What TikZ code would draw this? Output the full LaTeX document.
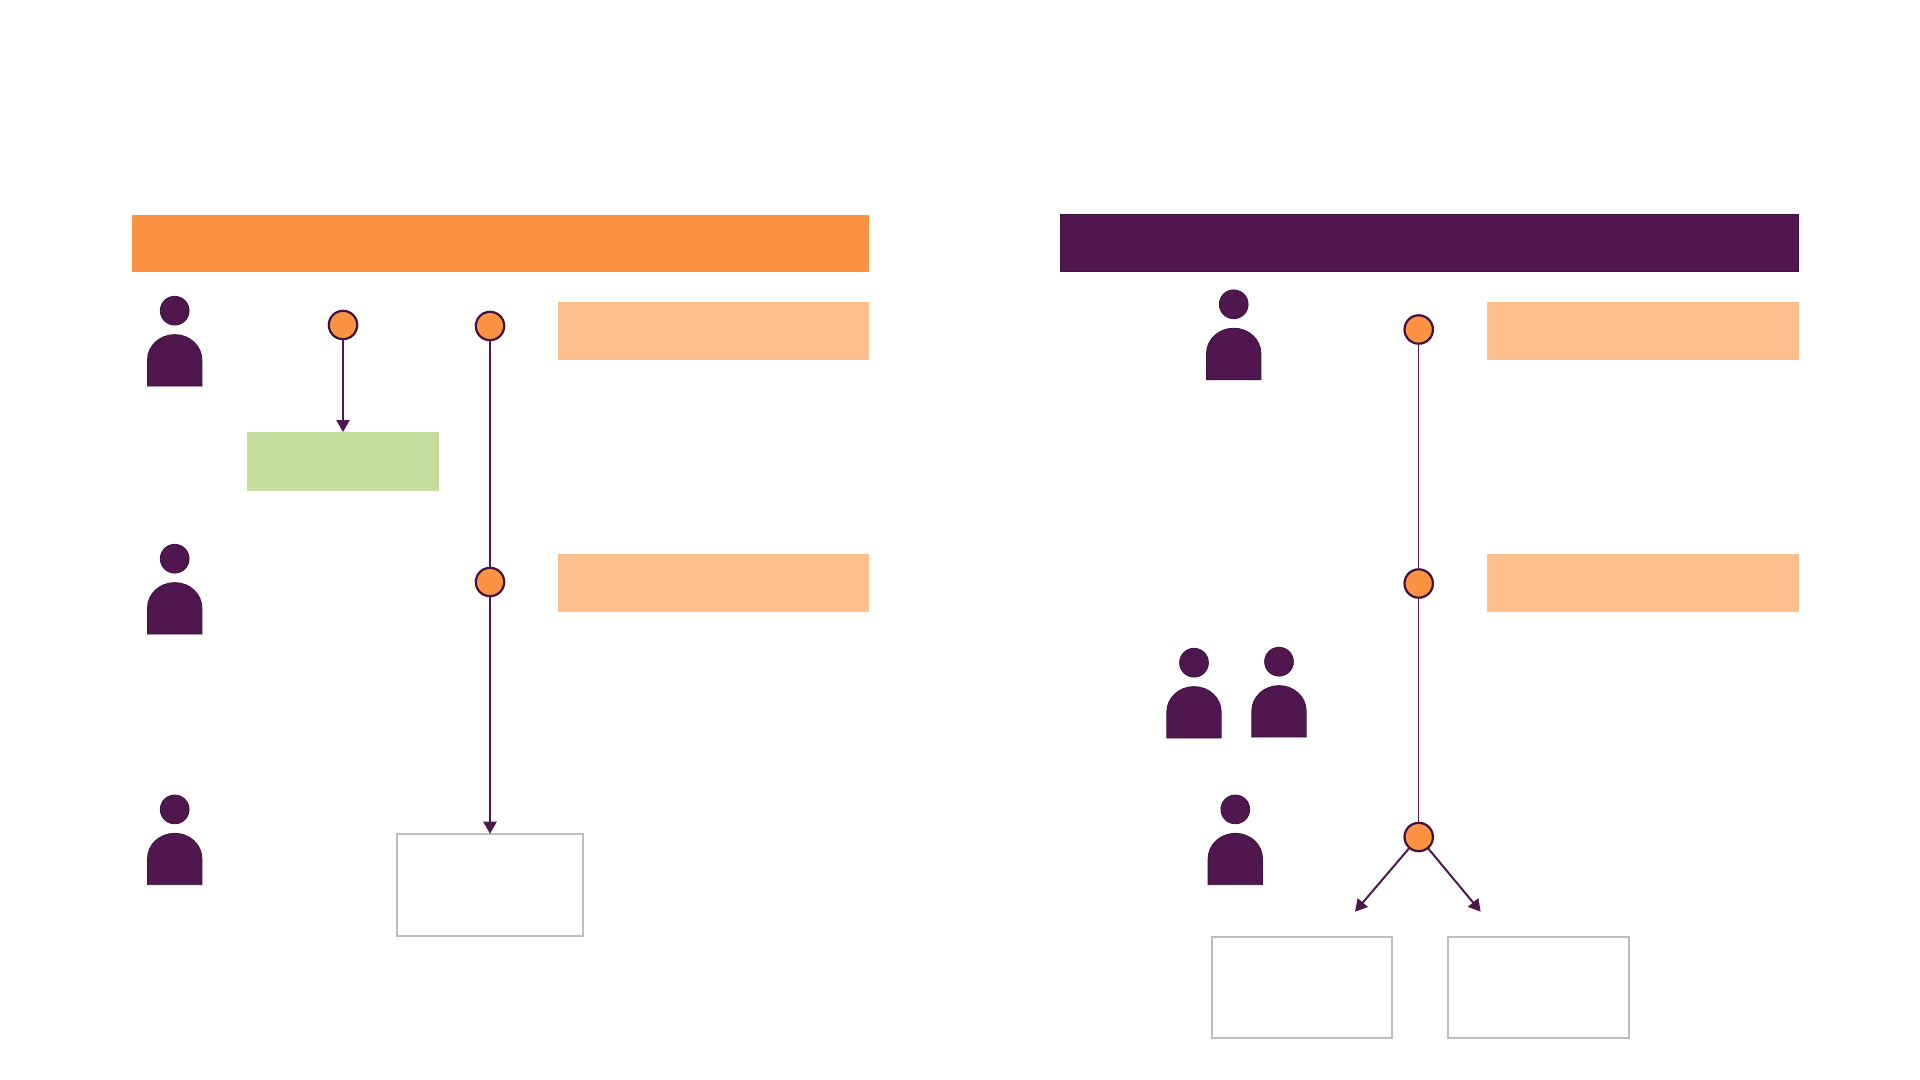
\documentclass[tikz,border=0pt]{standalone}
\usetikzlibrary{arrows.meta}
\definecolor{barorange}{HTML}{FB9342}
\definecolor{deep}{HTML}{50174F}
\definecolor{rim}{HTML}{3D1140}
\definecolor{peach}{HTML}{FDBF8E}
\definecolor{leaf}{HTML}{C5DE9D}
\definecolor{edgegray}{HTML}{BDBDBD}
\tikzset{
  band/.style={rectangle,inner sep=0pt,outer sep=0pt,draw=none},
  outlinebox/.style={rectangle,inner sep=0pt,outer sep=0pt,draw=edgegray,line width=0.9pt,fill=white},
  dot/.style={circle,inner sep=0pt,outer sep=0pt,minimum size=14.2pt,fill=barorange,draw=rim,line width=1.1pt},
  thickflow/.style={draw=deep,line width=1pt},
  thinflow/.style={draw=deep,line width=0.7pt},
  tip/.style={-{Triangle[length=6pt,width=6.6pt]}},
  person/.pic={
    \fill[deep,draw=rim,line width=0.4pt] (0,-75.3) circle[radius=14.4];
    \fill[deep,draw=rim,line width=0.4pt] (-27.2,0) -- (-27.2,-26)
      .. controls (-27.2,-40.2) and (-15,-51.4) .. (0,-51.4)
      .. controls (15,-51.4) and (27.2,-40.2) .. (27.2,-26)
      -- (27.2,0) -- cycle;
  }
}
\begin{document}
\begin{tikzpicture}[x=0.5pt,y=-0.5pt]
\useasboundingbox (0,0) rectangle (1920,1080);
\fill[white] (0,0) rectangle (1920,1080);
% header bands
\node[band,fill=barorange,minimum width=368.5pt,minimum height=28.5pt] (headL) at (500.5,243.5) {};
\node[band,fill=deep,draw=rim,line width=0.4pt,minimum width=369.3pt,minimum height=28.8pt] (headR) at (1429.5,243) {};
% peach bands
\node[band,fill=peach,minimum width=155.5pt,minimum height=29pt] (peachL1) at (713.5,331) {};
\node[band,fill=peach,minimum width=155.5pt,minimum height=29pt] (peachL2) at (713.5,582.7) {};
\node[band,fill=peach,minimum width=156pt,minimum height=29pt] (peachR1) at (1643,331) {};
\node[band,fill=peach,minimum width=156pt,minimum height=29pt] (peachR2) at (1643,582.7) {};
% green and outlined boxes
\node[band,fill=leaf,minimum width=96pt,minimum height=29.5pt] (green) at (343,461.5) {};
\node[outlinebox,minimum width=93.2pt,minimum height=51pt] (boxL) at (490,884.7) {};
\node[outlinebox,minimum width=90.3pt,minimum height=50.8pt] (boxR1) at (1302,987.5) {};
\node[outlinebox,minimum width=90.6pt,minimum height=50.8pt] (boxR2) at (1538.3,987.5) {};
% circles
\node[dot] (a1) at (343,325) {};
\node[dot] (b1) at (490,326) {};
\node[dot] (b2) at (490,582) {};
\node[dot] (c1) at (1418.7,329.5) {};
\node[dot] (c2) at (1418.7,583.5) {};
\node[dot] (c3) at (1418.7,837) {};
\coordinate (endA) at (1355,911.7);
\coordinate (endB) at (1480.7,911.7);
% connectors
\draw[thickflow,tip] (a1) -- (green);
\draw[thickflow] (b1) -- (b2);
\draw[thickflow,tip] (b2) -- (boxL);
\draw[thinflow] (c1) -- (c2);
\draw[thinflow] (c2) -- (c3);
\draw[thickflow,tip] (c3) -- (endA);
\draw[thickflow,tip] (c3) -- (endB);
% people
\pic at (174.7,386) {person};
\pic at (174.7,634) {person};
\pic at (174.7,884.7) {person};
\pic at (1233.7,379.6) {person};
\pic at (1194,738) {person};
\pic at (1279,737) {person};
\pic at (1235.3,884.7) {person};
\end{tikzpicture}
\end{document}
